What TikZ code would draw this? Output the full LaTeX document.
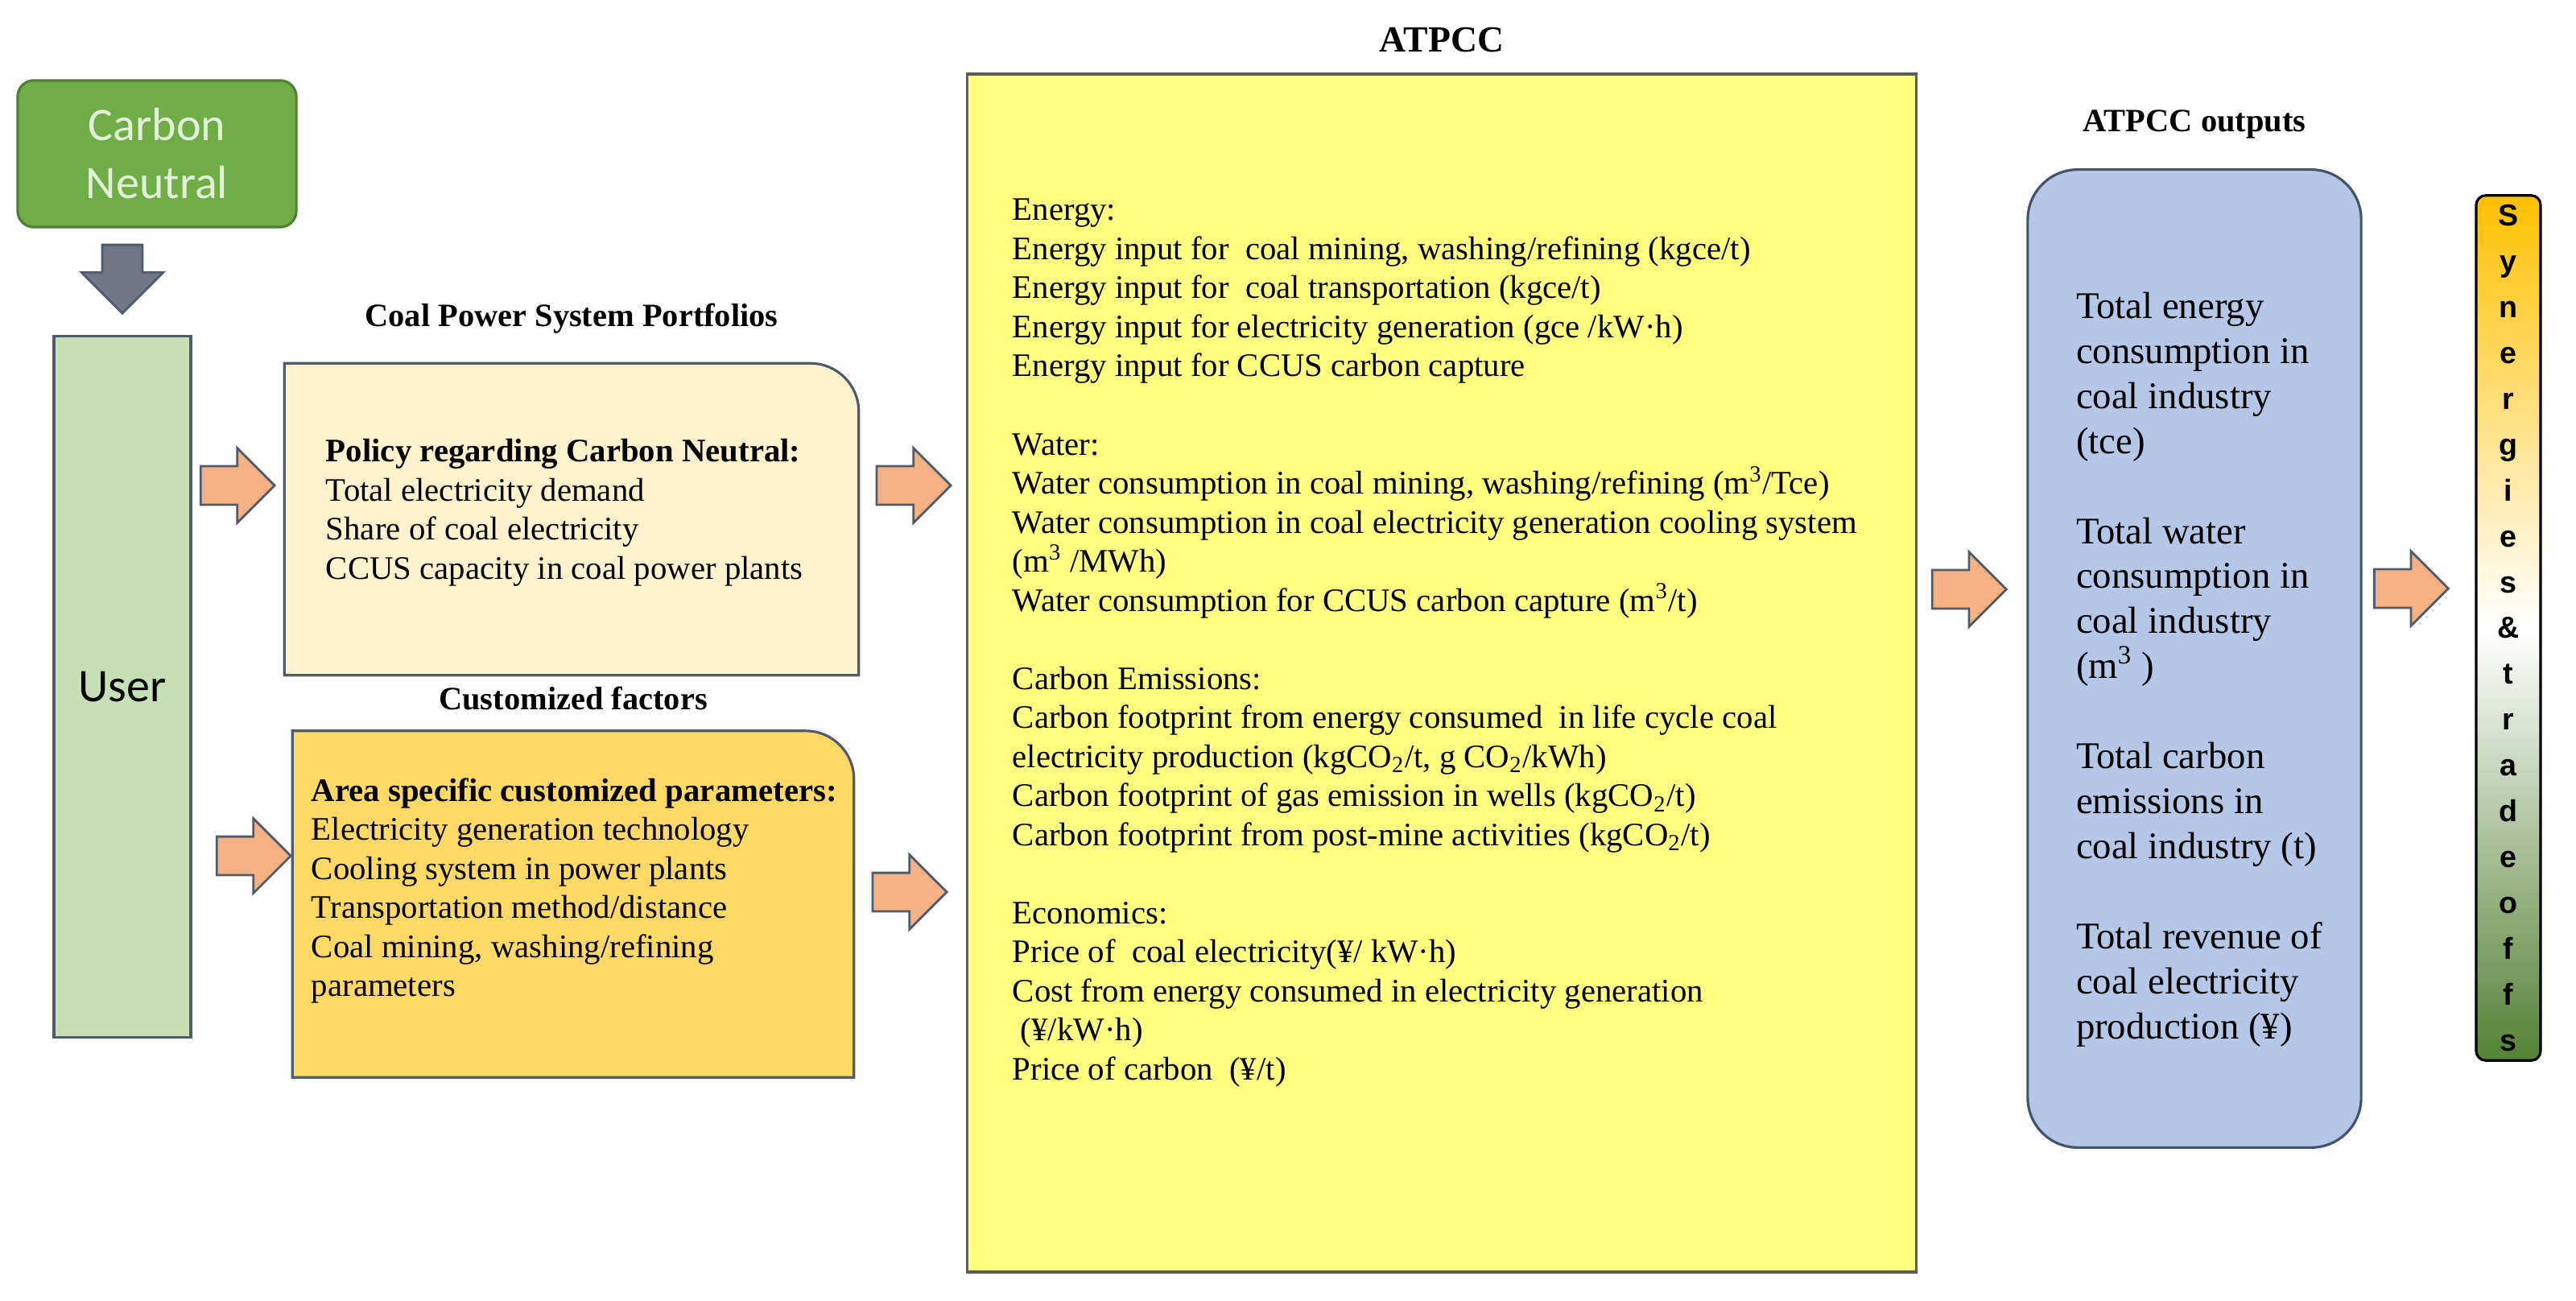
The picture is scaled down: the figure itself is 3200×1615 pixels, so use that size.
\documentclass[tikz,border=0pt]{standalone}
\usepackage{fontspec}
\setmainfont{Liberation Serif}
\setsansfont{Liberation Sans}
\newfontfamily\calibri{Carlito}
\usepackage{tikz}
\usetikzlibrary{calc,positioning,shapes.arrows}
\definecolor{leaf}{HTML}{70AD47}
\definecolor{leafdark}{HTML}{507E32}
\definecolor{leaflite}{HTML}{E2F0D9}
\definecolor{sage}{HTML}{C5E0B4}
\definecolor{slate}{HTML}{4F5B6E}
\definecolor{peach}{HTML}{F4B183}
\definecolor{cream}{HTML}{FFF2CC}
\definecolor{gold}{HTML}{FFD966}
\definecolor{lemon}{HTML}{FFFF80}
\definecolor{lemonedge}{HTML}{5A5F55}
\definecolor{sky}{HTML}{B4C7E7}
\definecolor{skyedge}{HTML}{44546A}
\definecolor{amber}{HTML}{FFC000}
\definecolor{moss}{HTML}{548235}
\definecolor{steel}{HTML}{717584}
\tikzset{
  panel/.style={inner sep=0pt,line width=0.9pt},
  headline/.style={inner sep=0pt,font=\fontsize{11.5}{13.8}\selectfont\bfseries},
  listtext/.style={inner sep=0pt,align=left,anchor=base west,font=\fontsize{11.6}{13.8}\selectfont},
  fatarrow/.style={single arrow,draw=slate,fill=peach,line width=0.8pt,inner sep=0.225cm,
    minimum height=0.92cm,single arrow head extend=0.225cm,anchor=tip},
}

\begin{document}
\begin{tikzpicture}[x=0.01cm,y=-0.01cm]
\useasboundingbox (0,0) rectangle (3200,1615);

% left column
\node[panel,draw=leafdark,fill=leaf,rounded corners=0.2cm,minimum width=3.46cm,minimum height=1.82cm,
  align=center,text=leaflite,font=\calibri\fontsize{16.5}{20.5}\selectfont] (cn) at (195,191) {Carbon\\Neutral};
\node[panel,draw=slate,fill=sage,minimum width=1.7cm,minimum height=8.7cm,
  font=\calibri\fontsize{16.5}{20}\selectfont] (user) at (152,853) {User};
\node[single arrow,shape border rotate=270,draw=slate,fill=steel,line width=0.8pt,inner sep=0.235cm,
  minimum height=0.85cm,single arrow head extend=0.26cm,anchor=tip] (down) at ($(user.north)+(0,-25)$) {};

% portfolios and factors
\node[panel,minimum width=7.1cm,minimum height=3.84cm] (policy) at (710,645) {};
\draw[line width=0.9pt,draw=slate,fill=cream] (policy.south west) -- (policy.north west) -- ([xshift=-0.6cm]policy.north east)
  arc[start angle=90,end angle=0,radius=0.6cm] -- (policy.south east) -- cycle;
\node[headline,above=0.36cm of policy] (ptitle) {Coal Power System Portfolios};
\node[listtext] (ptext) at ($(policy.north west)+(51,268)$) {\textbf{Policy regarding Carbon Neutral:}\\
  Total electricity demand\\
  Share of coal electricity\\
  CCUS capacity in coal power plants};

\node[panel,minimum width=6.94cm,minimum height=4.27cm] (custom) at (712,1123) {};
\draw[line width=0.9pt,draw=slate,fill=gold] (custom.south west) -- (custom.north west) -- ([xshift=-0.6cm]custom.north east)
  arc[start angle=90,end angle=0,radius=0.6cm] -- (custom.south east) -- cycle;
\node[headline,above=0.25cm of custom] (ctitle) {Customized factors};
\node[listtext] (ctext) at ($(custom.north west)+(23,330)$) {\textbf{Area specific customized parameters:}\\
  Electricity generation technology\\
  Cooling system in power plants\\
  Transportation method/distance\\
  Coal mining, washing/refining\\
  parameters};

% ATPCC
\node[panel,draw=lemonedge,fill=lemon,minimum width=11.78cm,minimum height=14.87cm] (atpcc) at (1791,836) {};
\node[headline,above=0.25cm of atpcc,font=\fontsize{13}{15}\selectfont\bfseries] (atitle) {ATPCC};
\node[listtext] (atext) at ($(atpcc.north west)+(57,1251)$) {Energy:\\
  Energy input for\ \ coal mining, washing/refining (kgce/t)\\
  Energy input for\ \ coal transportation (kgce/t)\\
  Energy input for electricity generation (gce /kW·h)\\
  Energy input for CCUS carbon capture\\[13.8pt]
  Water:\\
  Water consumption in coal mining, washing/refining (m\textsuperscript{3}/Tce)\\
  Water consumption in coal electricity generation cooling system\\
  (m\textsuperscript{3} /MWh)\\
  Water consumption for CCUS carbon capture (m\textsuperscript{3}/t)\\[13.8pt]
  Carbon Emissions:\\
  Carbon footprint from energy consumed\ \ in life cycle coal\\
  electricity production (kgCO\textsubscript{2}/t, g CO\textsubscript{2}/kWh)\\
  Carbon footprint of gas emission in wells (kgCO\textsubscript{2}/t)\\
  Carbon footprint from post-mine activities (kgCO\textsubscript{2}/t)\\[13.8pt]
  Economics:\\
  Price of\ \ coal electricity(¥/ kW·h)\\
  Cost from energy consumed in electricity generation\\
  \ (¥/kW·h)\\
  Price of carbon\ \ (¥/t)};

% outputs
\node[panel,draw=skyedge,fill=sky,rounded corners=0.62cm,minimum width=4.14cm,minimum height=12.14cm] (outputs) at (2726,818) {};
\node[headline,above=0.36cm of outputs] (otitle) {ATPCC outputs};
\node[listtext,font=\fontsize{13.3}{15.9}\selectfont] (otext) at ($(outputs.north west)+(61,1081)$) {Total energy\\
  consumption in\\
  coal industry\\
  (tce)\\[15.9pt]
  Total water\\
  consumption in\\
  coal industry\\
  (m\textsuperscript{3} )\\[15.9pt]
  Total carbon\\
  emissions in\\
  coal industry (t)\\[15.9pt]
  Total revenue of\\
  coal electricity\\
  production (¥)};

\node[draw=black,line width=0.9pt,rounded corners=0.12cm,top color=amber,bottom color=moss,middle color=white,
  minimum width=0.8cm,minimum height=10.74cm,inner sep=0pt,align=center,
  font=\sffamily\bfseries\fontsize{10.7}{16.2}\selectfont] (bar) at (3116,780)
  {S\\y\\n\\e\\r\\g\\i\\e\\s\\\&\\t\\r\\a\\d\\e\\o\\f\\f\\s};

% block arrows
\node[fatarrow] (a1) at ($(policy.west |- 0,603)+(-10,0)$) {};
\node[fatarrow] (a2) at (custom.west |- 0,1063) {};
\node[fatarrow] (a3) at ($(atpcc.west |- 0,603)+(-17,0)$) {};
\node[fatarrow] (a4) at ($(atpcc.west |- 0,1108)+(-22,0)$) {};
\node[fatarrow] (a5) at ($(outputs.west |- 0,732)+(-23,0)$) {};
\node[fatarrow] (a6) at ($(bar.west |- 0,731)+(-31,0)$) {};
\end{tikzpicture}
\end{document}
